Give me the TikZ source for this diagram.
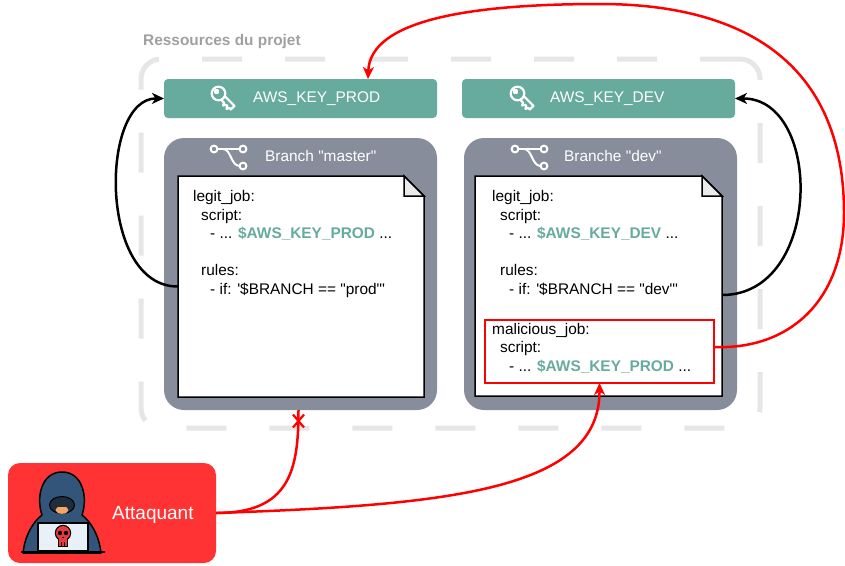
\documentclass[tikz,border=0pt]{standalone}
\usepackage{fontspec}
\setmainfont{Liberation Sans}[Ligatures=TeXOff]
\usetikzlibrary{arrows.meta}

\definecolor{keyteal}{HTML}{67AB9F}
\definecolor{branchgrey}{HTML}{888D9B}
\definecolor{framegrey}{HTML}{E6E6E6}
\definecolor{titlegrey}{HTML}{A0A0A0}
\definecolor{attackred}{HTML}{FF3333}
\definecolor{linkred}{HTML}{FF0000}
\definecolor{foldgrey}{HTML}{EBEBEB}
\definecolor{hoodblue}{HTML}{34557A}
\definecolor{maskdark}{HTML}{1F2D3D}
\definecolor{skin}{HTML}{F2A766}
\definecolor{screenwhite}{HTML}{E8F0F8}
\definecolor{skullred}{HTML}{E83A3F}

\begin{document}
\begin{tikzpicture}[x=1pt,y=-1pt,
  box/.style={anchor=north west, inner sep=0pt, outer sep=0pt},
  keybox/.style={box, fill=keyteal, rounded corners=4pt,
    minimum width=273pt, minimum height=39pt},
  branchbox/.style={box, fill=branchgrey, rounded corners=20pt,
    minimum width=273pt, minimum height=272pt},
  docarea/.style={box, minimum height=221pt},
  docline/.style={draw=black, line width=1.5pt, line join=miter},
  code/.style={anchor=north west, inner sep=0pt, align=left,
    font=\fontsize{15.4pt}{18.5pt}\selectfont},
  label/.style={anchor=west, inner sep=0pt, text=white,
    font=\fontsize{15.4pt}{18pt}\selectfont},
  iconline/.style={draw=white, line width=2.2pt, line join=round, line cap=round},
  blacklink/.style={draw=black, line width=2.5pt,
    -{Stealth[length=12pt,width=11pt,inset=3.5pt]}},
  redlink/.style={draw=linkred, line width=2.5pt},
  redarrow/.style={redlink, -{Stealth[length=12pt,width=11pt,inset=3.5pt]}},
]
\useasboundingbox (0,0) rectangle (845,565);

% project frame
\node[box, draw=framegrey, line width=5pt, rounded corners=20pt,
  dash pattern=on 40pt off 43pt, minimum width=619pt, minimum height=369pt]
  (proj) at (141,59) {};
\node[anchor=west, inner sep=0pt, text=titlegrey,
  font=\fontsize{15.4pt}{18pt}\selectfont\bfseries] (title) at (143,42)
  {Ressources du projet};

% secret variables
\node[keybox] (keyP) at (164,79) {};
\node[keybox] (keyD) at (462,79) {};
\node[label] (keyPtext) at (253,98.5) {AWS\_KEY\_PROD};
\node[label] (keyDtext) at (550,98.5) {AWS\_KEY\_DEV};

% key glyphs
\foreach \kx in {218.5,517.5}{
  \begin{scope}[shift={(\kx,93.5)}, rotate=-45]
    \draw[iconline] (0,0) circle (6.8);
    \draw[iconline] (-2.7,0) circle (1.5);
    \draw[iconline] (6.3,-2.6) -- (20,-2.6) -- (20,2.6) -- (18,2.6)
      -- (16.5,5.2) -- (15,2.6) -- (13.3,2.6) -- (11.8,5.2) -- (10.3,2.6)
      -- (6.3,2.6);
  \end{scope}
}

% branches
\node[branchbox] (brL) at (164,138) {};
\node[branchbox] (brR) at (464,138) {};
\node[label] (brLtext) at (265,156) {Branch "master"};
\node[label] (brRtext) at (564,156) {Branche "dev"};

% branch glyphs
\foreach \bx in {214,515}{
  \begin{scope}[shift={(\bx,149)}]
    \draw[iconline, line width=2pt] (0,0) circle (3.4);
    \draw[iconline, line width=2pt] (29,0) circle (3.4);
    \draw[iconline, line width=2pt] (29,17) circle (3.4);
    \draw[iconline, line width=2pt] (3.4,0) -- (25.6,0);
    \draw[iconline, line width=2pt] (9,0) .. controls (17,0) and (17,17) .. (25.6,17);
  \end{scope}
}

% pipeline files
\node[docarea, minimum width=246pt] (docL) at (178,176) {};
\node[docarea, minimum width=247pt, minimum height=220pt] (docR) at (475,176) {};
\foreach \d in {docL,docR}{
  \draw[docline, fill=white] (\d.north west) -- ([xshift=-20pt]\d.north east)
    -- ([yshift=-20pt]\d.north east) -- (\d.south east) -- (\d.south west) -- cycle;
  \draw[docline, fill=foldgrey] ([xshift=-20pt]\d.north east)
    -- ([xshift=-20pt,yshift=-20pt]\d.north east)
    -- ([yshift=-20pt]\d.north east) -- cycle;
}

\node[code] (codeL) at (193,190.5) {legit\_job:\\
\hspace*{8pt}script:\\
\hspace*{17pt}- ... \textcolor{keyteal}{\bfseries \$AWS\_KEY\_PROD} ...\\[18.5pt]
\hspace*{8pt}rules:\\
\hspace*{17pt}- if: '\$BRANCH == "prod"'};

\node[code] (codeR) at (492,190.5) {legit\_job:\\
\hspace*{8pt}script:\\
\hspace*{17pt}- ... \textcolor{keyteal}{\bfseries \$AWS\_KEY\_DEV} ...\\[18.5pt]
\hspace*{8pt}rules:\\
\hspace*{17pt}- if: '\$BRANCH == "dev"'};

\node[box, draw=linkred, line width=2.5pt, minimum width=229pt,
  minimum height=63pt] (mal) at (485,320) {};
\node[code] (malcode) at (492,323) {malicious\_job:\\
\hspace*{8pt}script:\\
\hspace*{17pt}- ... \textcolor{keyteal}{\bfseries \$AWS\_KEY\_PROD} ...};

% attacker
\node[box, fill=attackred, rounded corners=12pt, minimum width=208pt,
  minimum height=100pt] (att) at (8,463) {};
\node[label, font=\fontsize{19pt}{22pt}\selectfont] (atttext) at (112,515)
  {Attaquant};
\begin{scope}
  \filldraw[fill=hoodblue, draw=black, line width=1.5pt, line join=round]
    (23,553) .. controls (25,535) and (33,522) .. (42,515)
    .. controls (36,498) and (41,472) .. (62,472)
    .. controls (83,472) and (88,498) .. (82,515)
    .. controls (91,522) and (99,535) .. (101,553) -- cycle;
  \filldraw[fill=maskdark, draw=black, line width=1pt] (62,505) ellipse (12.5 and 8.5);
  \fill[skin] (62,510) ellipse (6.5 and 3.8);
  \fill[maskdark] (52,502) rectangle (72,506.5);
  \filldraw[fill=screenwhite, draw=black, line width=1.5pt] (38,523) rectangle (88,551);
  \draw[black, line width=2.8pt, line cap=round] (22,552) -- (104,552);
  \fill[black] (63,533) circle (8.2);
  \fill[black] (58,537) rectangle (68,547);
  \fill[skullred] (63,533) circle (7);
  \fill[skullred] (59.2,537) rectangle (66.8,545.8);
  \fill[black] (60,533) circle (2.2) (66,533) circle (2.2);
  \fill[black] (63,537.5) circle (0.9);
  \draw[black, line width=0.8pt] (61.5,542) -- (61.5,546) (64.5,542) -- (64.5,546);
\end{scope}

% connectors
\draw[blacklink] (docL.west) .. controls (98,287) and (100,98) .. (keyP.west);
\draw[blacklink] ([yshift=-9pt]docR.east) .. controls (823,295) and (823,98) .. (keyD.east);

\draw[redarrow] ([yshift=4.5pt]mal.east)
  .. controls (790,350) and (844,300) .. (844,213)
  .. controls (844,60) and (740,4) .. (600,4)
  .. controls (470,4) and (370,20) .. ([xshift=67.5pt]keyP.north);

\draw[redarrow] (att.east) .. controls (450,505) and (600,490) .. (mal.south);

\coordinate (block) at (298.5,421);
\draw[redlink] (att.east) .. controls (290,513) and (298.5,470) .. ([xshift=-2pt]brL.south);
\draw[redlink, line width=2.2pt] (block) +(-5.5,-6.5) -- +(5.5,6.5)
  (block) +(-5.5,6.5) -- +(5.5,-6.5);

\end{tikzpicture}
\end{document}
